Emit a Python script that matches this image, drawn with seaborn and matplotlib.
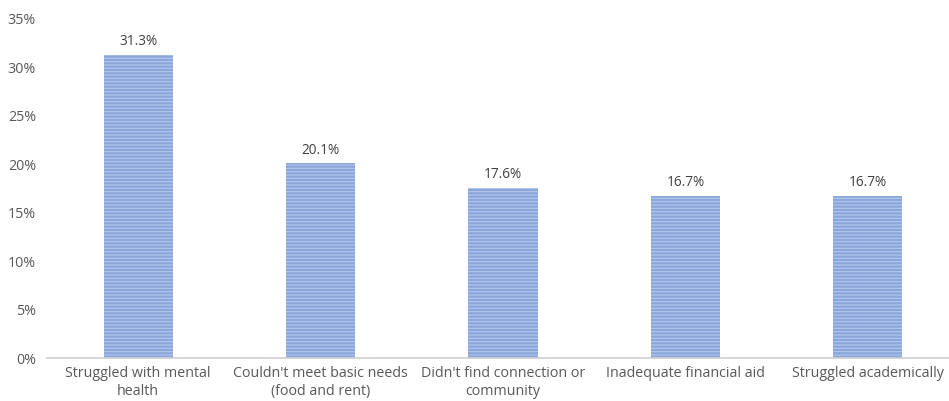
import matplotlib
matplotlib.use("Agg")
import matplotlib.pyplot as plt
import seaborn as sns
import pandas as pd

categories = [
    "Struggled with mental\nhealth",
    "Couldn't meet basic needs\n(food and rent)",
    "Didn't find connection or\ncommunity",
    "Inadequate financial aid",
    "Struggled academically",
]
values = [31.3, 20.1, 17.6, 16.7, 16.7]
yticks = [0, 5, 10, 15, 20, 25, 30, 35]

sns.set_theme(style="white")
plt.rcParams["font.family"] = ["Open Sans", "DejaVu Sans"]
plt.rcParams["hatch.linewidth"] = 0.8

df = pd.DataFrame({"category": categories, "value": values})

fig = plt.figure(figsize=(9.49, 4.01), dpi=100)
ax = fig.add_axes([47 / 949, 1 - 358 / 401, 912 / 949, (358 - 19) / 401])

sns.barplot(data=df, x="category", y="value", ax=ax, color="#8aa6da",
            width=0.38, saturation=1)

for patch in ax.patches:
    patch.set_hatch("-----")
    patch.set_edgecolor("#b5c7ea")
    patch.set_linewidth(0)

for patch, v in zip(ax.patches, values):
    ax.text(patch.get_x() + patch.get_width() / 2, v + 0.6, f"{v:.1f}%",
            ha="center", va="bottom", fontsize=9.8, color="#404040")

ax.set_ylim(0, 35)
ax.set_xlim(-0.5, len(categories) - 0.5)
ax.set_yticks(yticks)
ax.set_yticklabels([f"{t}%" for t in yticks])
ax.set_xlabel("")
ax.set_ylabel("")
ax.tick_params(axis="both", length=0, labelsize=10.3, colors="#595959", pad=8)
ax.tick_params(axis="x", pad=6)

for side in ["top", "right", "left"]:
    ax.spines[side].set_visible(False)
ax.spines["bottom"].set_color("#d0d0d0")
ax.spines["bottom"].set_linewidth(1.2)

fig.savefig("out.png", dpi=100)
